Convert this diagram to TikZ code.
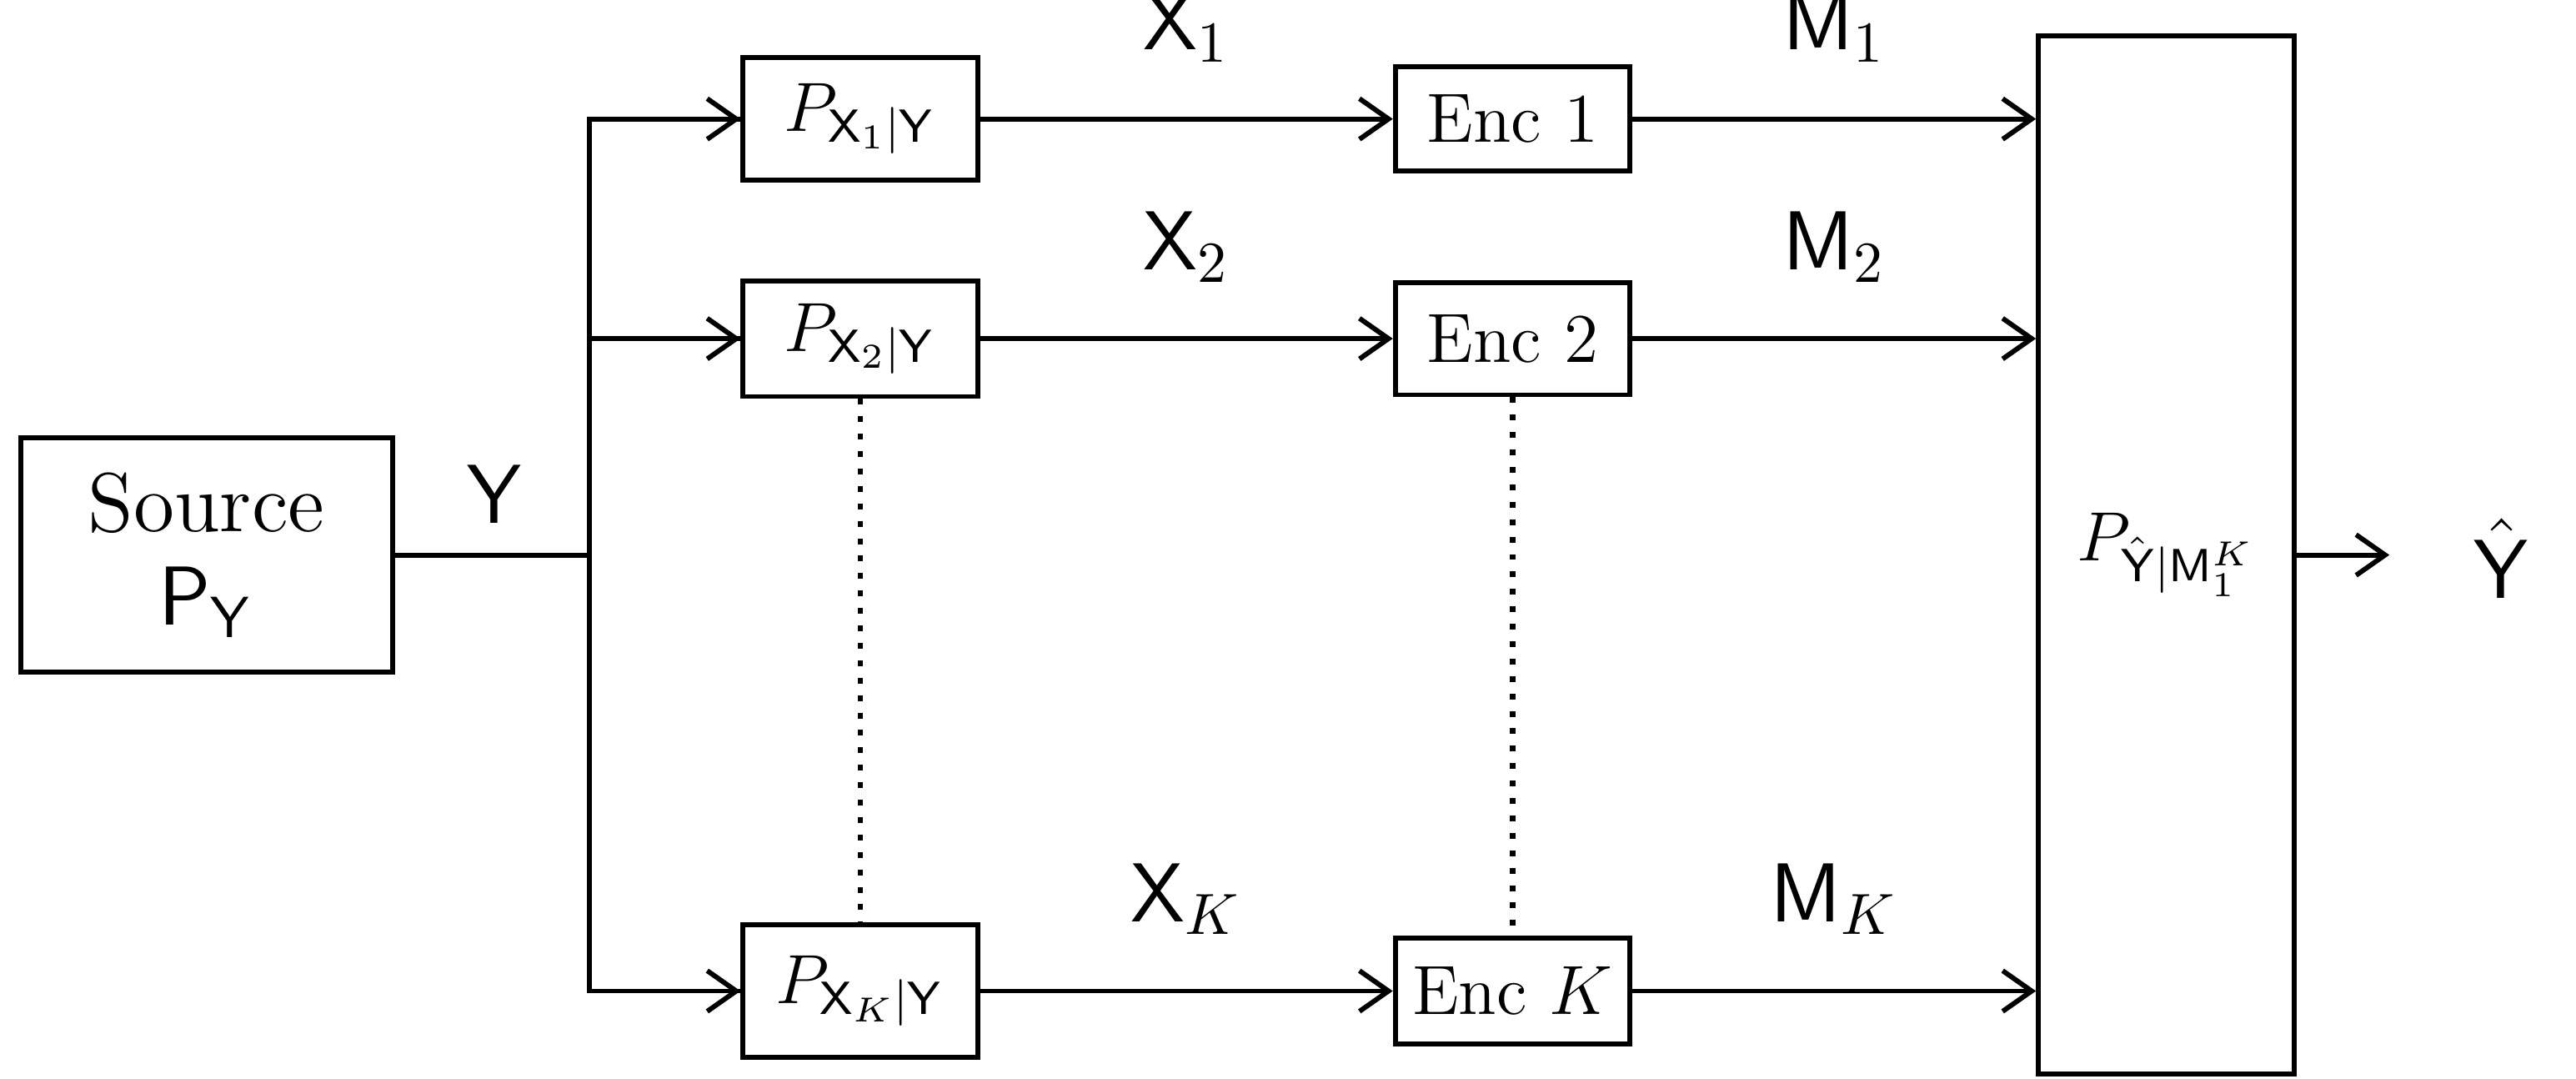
\documentclass[tikz,border=0pt]{standalone}
\usepackage{amsmath,amssymb}
\usetikzlibrary{arrows.meta,positioning}
\begin{document}
\begin{tikzpicture}[x=0.01cm,y=-0.01cm,line width=0.85pt,
  blk/.style={draw,inner sep=0pt,font=\large},
  lbl/.style={above=6pt,font=\Large},
  arr/.style={-{Straight Barb[length=5pt,width=7pt]}}]
\useasboundingbox (0,0) rectangle (1560,653);
\node[blk,font=\Large,minimum width=2.25cm,minimum height=1.42cm,align=center] (src) at (125,336) {Source\\[-2pt] $\mathsf{P}_{\mathsf{Y}}$};
\coordinate (j) at (357,336);
\node[font=\Large,above=0pt] at (300,330) {$\mathsf{Y}$};
% channels
\node[blk,minimum width=1.42cm,minimum height=0.74cm] (p1) at (521,72) {$P_{\mathsf{X}_1|\mathsf{Y}}$};
\node[blk,minimum width=1.42cm,minimum height=0.70cm] (p2) at (521,205) {$P_{\mathsf{X}_2|\mathsf{Y}}$};
\node[blk,minimum width=1.42cm,minimum height=0.80cm] (pk) at (521,600) {$P_{\mathsf{X}_K|\mathsf{Y}}$};
% encoders
\node[blk,minimum width=1.42cm,minimum height=0.63cm] (e1) at (916,72) {Enc 1};
\node[blk,minimum width=1.42cm,minimum height=0.68cm] (e2) at (916,205) {Enc 2};
\node[blk,minimum width=1.42cm,minimum height=0.64cm] (ek) at (916,600) {Enc $K$};
% decoder
\node[blk,minimum width=1.55cm,minimum height=6.28cm] (dec) at (1312,336) {$P_{\hat{\mathsf{Y}}|\mathsf{M}_1^K}$};
\coordinate (out) at (1447,336);
\node[font=\Large] (yh) at (1515,338) {$\hat{\mathsf{Y}}$};
\draw (src) -- (j);
\draw (j) |- (p1.west) (j) |- (p2.west) (j) |- (pk.west);
\draw[arr] (357,72) -- (p1);
\draw[arr] (357,205) -- (p2);
\draw[arr] (357,600) -- (pk);
\draw[arr] (p1) -- node[lbl] {$\mathsf{X}_1$} (e1);
\draw[arr] (p2) -- node[lbl] {$\mathsf{X}_2$} (e2);
\draw[arr] (pk) -- node[lbl] {$\mathsf{X}_K$} (ek);
\draw[arr] (e1) -- node[lbl] {$\mathsf{M}_1$} (e1 -| dec.west);
\draw[arr] (e2) -- node[lbl] {$\mathsf{M}_2$} (e2 -| dec.west);
\draw[arr] (ek) -- node[lbl] {$\mathsf{M}_K$} (ek -| dec.west);
\draw[arr] (dec) -- (out);
\draw[dotted,line width=1pt] (p2) -- (pk);
\draw[dotted,line width=1pt] (e2) -- (ek);
\end{tikzpicture}
\end{document}
